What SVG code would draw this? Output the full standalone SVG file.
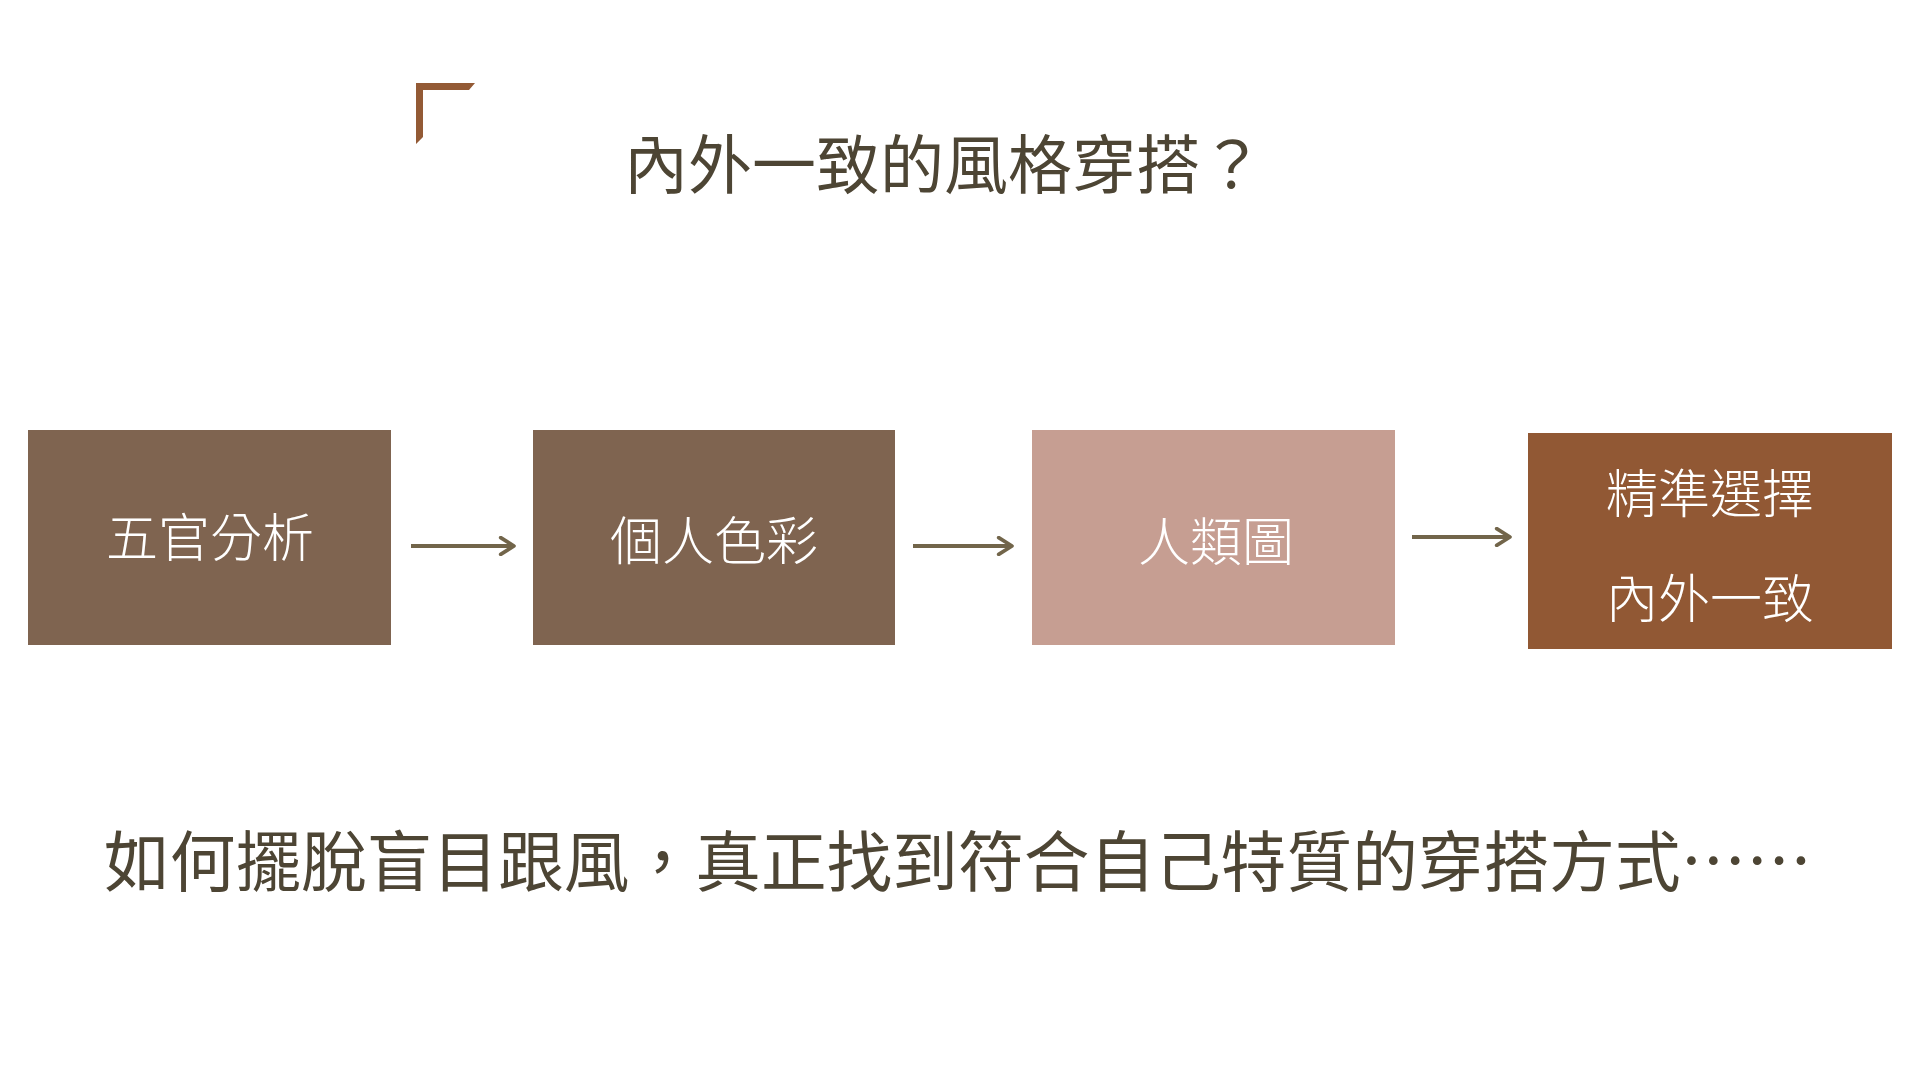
<svg xmlns="http://www.w3.org/2000/svg" width="1920" height="1080" viewBox="0 0 1920 1080" lang="zh-Hant" xml:lang="zh-Hant">
  <style>
    .serif { font-family: "Noto Sans CJK TC", "Liberation Serif", serif; fill: #4d4534; }
    .lbl { font-family: "Noto Sans CJK TC", "Noto Sans", sans-serif; font-weight: 300; font-size: 52px; fill: #ffffff; text-anchor: middle; }
    .conn { stroke: #72654a; stroke-width: 4; fill: none; }
  </style>
  <defs>
    <marker id="arr" viewBox="0 0 12 12" refX="10" refY="6" markerWidth="5" markerHeight="5" orient="auto" markerUnits="strokeWidth">
      <path d="M2,1 L10,6 L2,11" fill="none" stroke="#72654a" stroke-width="2.2" stroke-linecap="round" stroke-linejoin="round"/>
    </marker>
  </defs>
  <rect width="1920" height="1080" fill="#ffffff"/>

  <g id="corner">
    <path d="M416,83 L475,83 L469,90 L423,90 L423,137 L416,144 Z" fill="#935a35"/>
  </g>

  <g id="title">
    <text class="serif" x="624" y="188" font-size="64" textLength="640" lengthAdjust="spacingAndGlyphs">內外一致的風格穿搭？</text>
  </g>

  <g id="node-1">
    <rect x="28" y="430" width="363" height="215" fill="#7f6450"/>
    <text class="lbl" x="210" y="557">五官分析</text>
  </g>
  <g id="node-2">
    <rect x="533" y="430" width="362" height="215" fill="#7f6450"/>
    <text class="lbl" x="714" y="560">個人色彩</text>
  </g>
  <g id="node-3">
    <rect x="1032" y="430" width="363" height="215" fill="#c69e92"/>
    <text class="lbl" x="1216" y="561">人類圖</text>
  </g>
  <g id="node-4">
    <rect x="1528" y="433" width="364" height="216" fill="#915834"/>
    <text class="lbl" x="1710" y="513">精準選擇</text>
    <text class="lbl" x="1710" y="618">內外一致</text>
  </g>

  <g id="connectors">
    <line class="conn" x1="411" y1="546" x2="514" y2="546" marker-end="url(#arr)"/>
    <line class="conn" x1="913" y1="546" x2="1012" y2="546" marker-end="url(#arr)"/>
    <line class="conn" x1="1412" y1="537" x2="1510" y2="537" marker-end="url(#arr)"/>
  </g>

  <g id="subtitle">
    <text class="serif" x="104" y="886" font-size="66" textLength="1708" lengthAdjust="spacingAndGlyphs">如何擺脫盲目跟風，真正找到符合自己特質的穿搭方式……</text>
  </g>
</svg>
